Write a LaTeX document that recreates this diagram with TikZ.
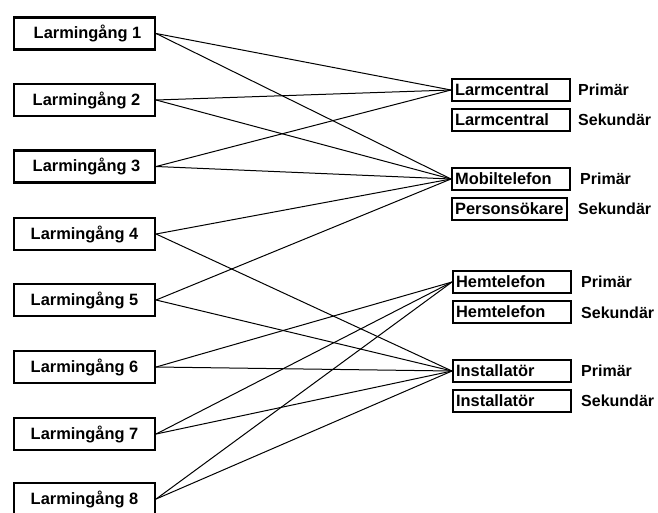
\documentclass[tikz,border=0pt]{standalone}
\usepackage{fontspec}
\setmainfont{Liberation Sans}
\begin{document}
\begin{tikzpicture}[x=1pt,y=-1pt,
  inbox/.style={draw, line width=2.2pt, rectangle, minimum width=141pt, minimum height=32pt, inner sep=0pt, font=\fontsize{16.4}{16.4}\selectfont\bfseries},
  outbox/.style={draw, line width=2.2pt, rectangle, anchor=west, minimum height=22pt, inner ysep=0pt, inner xsep=3pt, text width=112pt, align=left, font=\fontsize{16.4}{16.4}\selectfont\bfseries},
  lab/.style={anchor=west, inner sep=0pt, font=\fontsize{16}{16}\selectfont\bfseries},
  conn/.style={line width=1pt}]
\useasboundingbox[fill=white] (0,0) rectangle (658,512);
% left inputs
\node[inbox] (l1) at (84.5,33.5) {\hspace*{6pt}Larmingång 1};
\node[inbox] (l2) at (84.5,100) {\hspace*{4pt}Larmingång 2};
\node[inbox] (l3) at (84.5,166.5) {\hspace*{4pt}Larmingång 3};
\node[inbox] (l4) at (84.5,234) {Larmingång 4};
\node[inbox] (l5) at (84.5,300) {Larmingång 5};
\node[inbox] (l6) at (84.5,367) {Larmingång 6};
\node[inbox] (l7) at (84.5,434) {Larmingång 7};
\node[inbox] (l8) at (84.5,499) {Larmingång 8};
% right outputs
\node[outbox] (lc1) at (451,90) {Larmcentral};
\node[outbox] (lc2) at (451,120) {Larmcentral};
\node[outbox] (mt) at (451,179) {Mobiltelefon};
\node[outbox, text width=109pt] (ps) at (451,209) {Personsökare};
\node[outbox] (ht1) at (452,282) {Hemtelefon};
\node[outbox] (ht2) at (452,312) {Hemtelefon};
\node[outbox] (in1) at (452,371) {Installatör};
\node[outbox] (in2) at (452,401) {Installatör};
% labels
\node[lab] (p1) at (578,90) {Primär};
\node[lab] (s1) at (578,120) {Sekundär};
\node[lab] (p2) at (580,179) {Primär};
\node[lab] (s2) at (578,209) {Sekundär};
\node[lab] (p3) at (581,282) {Primär};
\node[lab] (s3) at (581,313) {Sekundär};
\node[lab] (p4) at (581,371) {Primär};
\node[lab] (s4) at (581,401) {Sekundär};
% connectors
\draw[conn] (l1.east) -- (lc1.west);
\draw[conn] (l1.east) -- (mt.west);
\draw[conn] (l2.east) -- (lc1.west);
\draw[conn] (l2.east) -- (mt.west);
\draw[conn] (l3.east) -- (lc1.west);
\draw[conn] (l3.east) -- (mt.west);
\draw[conn] (l4.east) -- (mt.west);
\draw[conn] (l4.east) -- (in1.west);
\draw[conn] (l5.east) -- (mt.west);
\draw[conn] (l5.east) -- (in1.west);
\draw[conn] (l6.east) -- (ht1.west);
\draw[conn] (l6.east) -- (in1.west);
\draw[conn] (l7.east) -- (ht1.west);
\draw[conn] (l7.east) -- (in1.west);
\draw[conn] (l8.east) -- (ht1.west);
\draw[conn] (l8.east) -- (in1.west);
\end{tikzpicture}
\end{document}
